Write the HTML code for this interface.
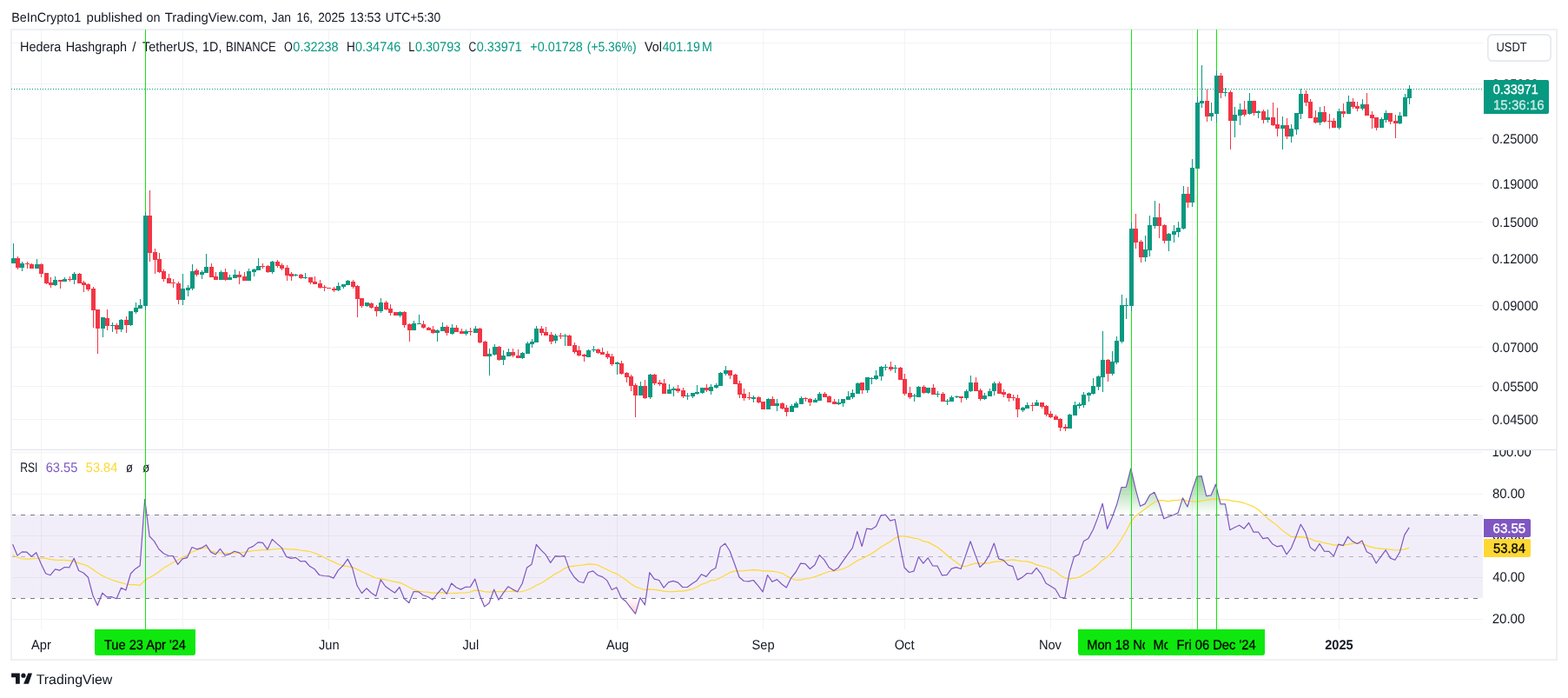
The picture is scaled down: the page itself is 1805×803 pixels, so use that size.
<!DOCTYPE html>
<html lang="en"><head><meta charset="utf-8"><title>HBARUSDT chart</title>
<style>html,body{margin:0;padding:0;background:#fff}body{width:1805px;height:803px;overflow:hidden;font-family:"Liberation Sans", Arial, sans-serif}svg{display:block}text{font-family:"Liberation Sans", Arial, sans-serif;font-size:15.5px;text-rendering:geometricPrecision;fill:#131722}</style>
</head><body>
<svg width="1805" height="803" viewBox="0 0 1805 803">
<rect width="1805" height="803" fill="#fff"/>
<g shape-rendering="crispEdges">
<rect x="13" y="34" width="1779" height="725" fill="none" stroke="#eef0f4" stroke-width="2"/>
<rect x="14" y="49" width="1693" height="1" fill="#f2f3f4"/>
<rect x="14" y="96" width="1693" height="1" fill="#f2f3f4"/>
<rect x="14" y="159" width="1693" height="1" fill="#f2f3f4"/>
<rect x="14" y="211" width="1693" height="1" fill="#f2f3f4"/>
<rect x="14" y="255" width="1693" height="1" fill="#f2f3f4"/>
<rect x="14" y="297" width="1693" height="1" fill="#f2f3f4"/>
<rect x="14" y="351" width="1693" height="1" fill="#f2f3f4"/>
<rect x="14" y="399" width="1693" height="1" fill="#f2f3f4"/>
<rect x="14" y="444" width="1693" height="1" fill="#f2f3f4"/>
<rect x="14" y="482" width="1693" height="1" fill="#f2f3f4"/>
<rect x="14" y="520" width="1693" height="1" fill="#f2f3f4"/>
<rect x="14" y="568" width="1693" height="1" fill="#f2f3f4"/>
<rect x="14" y="616" width="1693" height="1" fill="#f2f3f4"/>
<rect x="14" y="664" width="1693" height="1" fill="#f2f3f4"/>
<rect x="14" y="712" width="1693" height="1" fill="#f2f3f4"/>
<rect x="47" y="35" width="1" height="689" fill="#f2f3f4"/>
<rect x="210" y="35" width="1" height="689" fill="#f2f3f4"/>
<rect x="378" y="35" width="1" height="689" fill="#f2f3f4"/>
<rect x="541" y="35" width="1" height="689" fill="#f2f3f4"/>
<rect x="710" y="35" width="1" height="689" fill="#f2f3f4"/>
<rect x="878" y="35" width="1" height="689" fill="#f2f3f4"/>
<rect x="1041" y="35" width="1" height="689" fill="#f2f3f4"/>
<rect x="1209" y="35" width="1" height="689" fill="#f2f3f4"/>
<rect x="1372" y="35" width="1" height="689" fill="#f2f3f4"/>
<rect x="1541" y="35" width="1" height="689" fill="#f2f3f4"/>
<rect x="14" y="517" width="1778" height="1" fill="#e0e3eb"/>
<rect x="14" y="592" width="1693" height="96" fill="#7e57c2" fill-opacity="0.1"/>
</g>
<g fill="none" stroke-width="1" shape-rendering="crispEdges">
<path d="M14 592.5H1707M14 688.5H1707" stroke="#787b86" stroke-dasharray="5 6" stroke-dashoffset="1"/>
<path d="M14 640.5H1707" stroke="#787b86" stroke-opacity="0.5" stroke-dasharray="5 6" stroke-dashoffset="1"/>
</g>
<text x="22.97" y="58.8" textLength="47.44" lengthAdjust="spacingAndGlyphs">Hedera</text>
<text x="75.68" y="58.8" textLength="70.43" lengthAdjust="spacingAndGlyphs">Hashgraph</text>
<text x="152.30" y="58.8" textLength="4.31" lengthAdjust="spacingAndGlyphs">/</text>
<text x="163.98" y="58.8" textLength="64.00" lengthAdjust="spacingAndGlyphs">TetherUS,</text>
<text x="233.11" y="58.8" textLength="22.26" lengthAdjust="spacingAndGlyphs">1D,</text>
<text x="259.99" y="58.8" textLength="57.66" lengthAdjust="spacingAndGlyphs">BINANCE</text>
<text x="326.91" y="58.8" textLength="9.84" lengthAdjust="spacingAndGlyphs">O</text>
<text x="337.35" y="58.8" style="fill:#089981;" textLength="52.24" lengthAdjust="spacingAndGlyphs">0.32238</text>
<text x="398.94" y="58.8" textLength="9.76" lengthAdjust="spacingAndGlyphs">H</text>
<text x="408.95" y="58.8" style="fill:#089981;" textLength="52.44" lengthAdjust="spacingAndGlyphs">0.34746</text>
<text x="470.20" y="58.8" textLength="7.12" lengthAdjust="spacingAndGlyphs">L</text>
<text x="477.95" y="58.8" style="fill:#089981;" textLength="52.34" lengthAdjust="spacingAndGlyphs">0.30793</text>
<text x="539.54" y="58.8" textLength="8.68" lengthAdjust="spacingAndGlyphs">C</text>
<text x="548.65" y="58.8" style="fill:#089981;" textLength="52.14" lengthAdjust="spacingAndGlyphs">0.33971</text>
<text x="610.32" y="58.8" style="fill:#089981;" textLength="60.56" lengthAdjust="spacingAndGlyphs">+0.01728</text>
<text x="675.75" y="58.8" style="fill:#089981;" textLength="56.77" lengthAdjust="spacingAndGlyphs">(+5.36%)</text>
<text x="742.10" y="58.8" textLength="19.84" lengthAdjust="spacingAndGlyphs">Vol</text>
<text x="762.38" y="58.8" style="fill:#089981;" textLength="43.60" lengthAdjust="spacingAndGlyphs">401.19</text>
<text x="808.09" y="58.8" style="fill:#089981;" textLength="11.87" lengthAdjust="spacingAndGlyphs">M</text>
<text x="23.15" y="542.7" textLength="20.36" lengthAdjust="spacingAndGlyphs">RSI</text>
<text x="52.71" y="542.7" style="fill:#7e57c2;" textLength="36.68" lengthAdjust="spacingAndGlyphs">63.55</text>
<text x="98.84" y="542.7" style="fill:#fdd835;" textLength="36.52" lengthAdjust="spacingAndGlyphs">53.84</text>
<text x="145.00" y="542.7" textLength="7.92" lengthAdjust="spacingAndGlyphs">ø</text>
<text x="164.20" y="542.7" textLength="7.82" lengthAdjust="spacingAndGlyphs">ø</text>
<g shape-rendering="crispEdges" fill="#0ee80e">
<rect x="167" y="34" width="1" height="484"/>
<rect x="1302" y="34" width="1" height="484"/>
<rect x="1378" y="34" width="1" height="484"/>
<rect x="1400" y="34" width="1" height="484"/>
</g>
<path d="M13 102.5H1707" stroke="#089981" stroke-width="1" stroke-dasharray="1 2" shape-rendering="crispEdges" fill="none"/>
<g shape-rendering="crispEdges">
<path fill="#089981" d="M15 280h1v23h-1zM13 297h5v6h-5z"/>
<path fill="#f23645" d="M20 295h1v15h-1zM18 297h5v11h-5z"/>
<path fill="#089981" d="M25 301h1v11h-1zM23 303h5v5h-5z"/>
<path fill="#f23645" d="M31 301h1v8h-1zM29 303h5v1h-5z"/>
<path fill="#f23645" d="M36 303h1v6h-1zM34 304h5v5h-5z"/>
<path fill="#089981" d="M42 298h1v11h-1zM40 304h5v5h-5z"/>
<path fill="#f23645" d="M47 303h1v16h-1zM45 304h5v11h-5z"/>
<path fill="#f23645" d="M53 314h1v13h-1zM51 314h5v12h-5z"/>
<path fill="#f23645" d="M58 319h1v12h-1zM56 325h5v3h-5z"/>
<path fill="#089981" d="M63 318h1v11h-1zM61 322h5v6h-5z"/>
<path fill="#f23645" d="M69 322h1v10h-1zM67 322h5v2h-5z"/>
<path fill="#089981" d="M74 319h1v5h-1zM72 321h5v3h-5z"/>
<path fill="#f23645" d="M80 318h1v6h-1zM78 321h5v1h-5z"/>
<path fill="#089981" d="M85 313h1v14h-1zM83 315h5v7h-5z"/>
<path fill="#f23645" d="M91 314h1v12h-1zM89 315h5v11h-5z"/>
<path fill="#f23645" d="M96 323h1v13h-1zM94 325h5v3h-5z"/>
<path fill="#f23645" d="M101 326h1v9h-1zM99 327h5v6h-5z"/>
<path fill="#f23645" d="M107 330h1v47h-1zM105 332h5v25h-5z"/>
<path fill="#f23645" d="M112 356h1v51h-1zM110 356h5v22h-5z"/>
<path fill="#089981" d="M118 365h1v23h-1zM116 365h5v13h-5z"/>
<path fill="#f23645" d="M123 356h1v24h-1zM121 366h5v9h-5z"/>
<path fill="#089981" d="M129 371h1v11h-1zM127 374h5v1h-5z"/>
<path fill="#f23645" d="M134 372h1v12h-1zM132 374h5v5h-5z"/>
<path fill="#089981" d="M139 367h1v15h-1zM137 368h5v11h-5z"/>
<path fill="#f23645" d="M145 364h1v19h-1zM143 368h5v6h-5z"/>
<path fill="#089981" d="M150 358h1v17h-1zM148 358h5v16h-5z"/>
<path fill="#089981" d="M156 348h1v13h-1zM154 354h5v5h-5z"/>
<path fill="#089981" d="M161 344h1v11h-1zM159 351h5v4h-5z"/>
<path fill="#089981" d="M167 244h1v113h-1zM165 248h5v104h-5z"/>
<path fill="#f23645" d="M172 219h1v82h-1zM170 248h5v43h-5z"/>
<path fill="#f23645" d="M178 286h1v29h-1zM176 290h5v9h-5z"/>
<path fill="#f23645" d="M183 291h1v23h-1zM181 298h5v15h-5z"/>
<path fill="#f23645" d="M188 310h1v14h-1zM186 312h5v9h-5z"/>
<path fill="#f23645" d="M194 315h1v11h-1zM192 320h5v6h-5z"/>
<path fill="#f23645" d="M199 321h1v10h-1zM197 325h5v1h-5z"/>
<path fill="#f23645" d="M205 324h1v26h-1zM203 326h5v19h-5z"/>
<path fill="#089981" d="M210 315h1v36h-1zM208 332h5v13h-5z"/>
<path fill="#089981" d="M216 328h1v13h-1zM214 331h5v3h-5z"/>
<path fill="#089981" d="M221 304h1v30h-1zM219 312h5v20h-5z"/>
<path fill="#f23645" d="M226 309h1v9h-1zM224 311h5v5h-5z"/>
<path fill="#089981" d="M232 311h1v10h-1zM230 313h5v3h-5z"/>
<path fill="#089981" d="M237 292h1v22h-1zM235 307h5v7h-5z"/>
<path fill="#f23645" d="M243 303h1v16h-1zM241 307h5v12h-5z"/>
<path fill="#f23645" d="M248 313h1v9h-1zM246 318h5v4h-5z"/>
<path fill="#089981" d="M254 311h1v11h-1zM252 313h5v9h-5z"/>
<path fill="#f23645" d="M259 309h1v14h-1zM257 313h5v9h-5z"/>
<path fill="#089981" d="M264 316h1v6h-1zM262 319h5v3h-5z"/>
<path fill="#089981" d="M270 310h1v10h-1zM268 316h5v4h-5z"/>
<path fill="#f23645" d="M275 312h1v15h-1zM273 316h5v3h-5z"/>
<path fill="#f23645" d="M281 313h1v10h-1zM279 318h5v5h-5z"/>
<path fill="#089981" d="M286 309h1v14h-1zM284 312h5v11h-5z"/>
<path fill="#089981" d="M292 309h1v9h-1zM290 310h5v3h-5z"/>
<path fill="#089981" d="M297 297h1v14h-1zM295 306h5v5h-5z"/>
<path fill="#f23645" d="M302 303h1v6h-1zM300 306h5v1h-5z"/>
<path fill="#f23645" d="M308 305h1v9h-1zM306 306h5v7h-5z"/>
<path fill="#089981" d="M313 300h1v15h-1zM311 301h5v12h-5z"/>
<path fill="#f23645" d="M319 299h1v9h-1zM317 301h5v5h-5z"/>
<path fill="#f23645" d="M324 303h1v8h-1zM322 305h5v4h-5z"/>
<path fill="#f23645" d="M330 305h1v18h-1zM328 308h5v9h-5z"/>
<path fill="#f23645" d="M335 313h1v10h-1zM333 315h5v3h-5z"/>
<path fill="#089981" d="M340 315h1v3h-1zM338 316h5v1h-5z"/>
<path fill="#f23645" d="M346 315h1v6h-1zM344 316h5v4h-5z"/>
<path fill="#089981" d="M351 314h1v7h-1zM349 319h5v1h-5z"/>
<path fill="#f23645" d="M357 319h1v8h-1zM355 319h5v6h-5z"/>
<path fill="#f23645" d="M362 318h1v9h-1zM360 324h5v3h-5z"/>
<path fill="#f23645" d="M368 322h1v10h-1zM366 326h5v5h-5z"/>
<path fill="#f23645" d="M373 328h1v7h-1zM371 330h5v1h-5z"/>
<path fill="#f23645" d="M378 331h1v1h-1zM376 331h5v1h-5z"/>
<path fill="#f23645" d="M384 330h1v6h-1zM382 332h5v2h-5z"/>
<path fill="#089981" d="M389 325h1v10h-1zM387 329h5v5h-5z"/>
<path fill="#089981" d="M395 327h1v5h-1zM393 327h5v3h-5z"/>
<path fill="#089981" d="M400 322h1v6h-1zM398 323h5v5h-5z"/>
<path fill="#f23645" d="M406 322h1v10h-1zM404 324h5v6h-5z"/>
<path fill="#f23645" d="M411 328h1v37h-1zM409 329h5v15h-5z"/>
<path fill="#f23645" d="M416 343h1v11h-1zM414 343h5v9h-5z"/>
<path fill="#089981" d="M422 348h1v5h-1zM420 348h5v4h-5z"/>
<path fill="#f23645" d="M427 348h1v7h-1zM425 349h5v5h-5z"/>
<path fill="#f23645" d="M433 351h1v13h-1zM431 353h5v5h-5z"/>
<path fill="#089981" d="M438 343h1v17h-1zM436 348h5v10h-5z"/>
<path fill="#f23645" d="M444 346h1v11h-1zM442 348h5v8h-5z"/>
<path fill="#f23645" d="M449 350h1v13h-1zM447 355h5v5h-5z"/>
<path fill="#f23645" d="M455 359h1v4h-1zM453 359h5v4h-5z"/>
<path fill="#089981" d="M460 358h1v7h-1zM458 359h5v4h-5z"/>
<path fill="#f23645" d="M465 358h1v19h-1zM463 359h5v15h-5z"/>
<path fill="#f23645" d="M471 372h1v21h-1zM469 373h5v7h-5z"/>
<path fill="#089981" d="M476 369h1v11h-1zM474 372h5v8h-5z"/>
<path fill="#089981" d="M482 362h1v11h-1zM480 372h5v1h-5z"/>
<path fill="#f23645" d="M487 369h1v9h-1zM485 373h5v4h-5z"/>
<path fill="#f23645" d="M493 376h1v4h-1zM491 377h5v3h-5z"/>
<path fill="#f23645" d="M498 375h1v9h-1zM496 379h5v4h-5z"/>
<path fill="#089981" d="M503 379h1v14h-1zM501 380h5v3h-5z"/>
<path fill="#089981" d="M509 371h1v10h-1zM507 376h5v5h-5z"/>
<path fill="#f23645" d="M514 374h1v12h-1zM512 376h5v7h-5z"/>
<path fill="#089981" d="M520 373h1v12h-1zM518 377h5v7h-5z"/>
<path fill="#f23645" d="M525 374h1v8h-1zM523 377h5v5h-5z"/>
<path fill="#f23645" d="M531 378h1v6h-1zM529 381h5v3h-5z"/>
<path fill="#089981" d="M536 379h1v7h-1zM534 381h5v3h-5z"/>
<path fill="#f23645" d="M541 377h1v9h-1zM539 381h5v1h-5z"/>
<path fill="#089981" d="M547 375h1v8h-1zM545 378h5v5h-5z"/>
<path fill="#f23645" d="M552 377h1v18h-1zM550 378h5v16h-5z"/>
<path fill="#f23645" d="M558 392h1v18h-1zM556 393h5v17h-5z"/>
<path fill="#089981" d="M563 401h1v31h-1zM561 407h5v3h-5z"/>
<path fill="#089981" d="M569 396h1v13h-1zM567 399h5v9h-5z"/>
<path fill="#f23645" d="M574 398h1v17h-1zM572 399h5v15h-5z"/>
<path fill="#089981" d="M579 403h1v17h-1zM577 409h5v5h-5z"/>
<path fill="#089981" d="M585 401h1v9h-1zM583 405h5v5h-5z"/>
<path fill="#f23645" d="M590 401h1v10h-1zM588 405h5v4h-5z"/>
<path fill="#f23645" d="M596 402h1v10h-1zM594 409h5v3h-5z"/>
<path fill="#089981" d="M601 405h1v8h-1zM599 406h5v6h-5z"/>
<path fill="#089981" d="M607 393h1v14h-1zM605 395h5v12h-5z"/>
<path fill="#089981" d="M612 390h1v10h-1zM610 393h5v3h-5z"/>
<path fill="#089981" d="M617 375h1v19h-1zM615 378h5v16h-5z"/>
<path fill="#f23645" d="M623 375h1v11h-1zM621 378h5v5h-5z"/>
<path fill="#f23645" d="M628 376h1v10h-1zM626 382h5v4h-5z"/>
<path fill="#f23645" d="M634 382h1v14h-1zM632 385h5v8h-5z"/>
<path fill="#089981" d="M639 384h1v11h-1zM637 386h5v6h-5z"/>
<path fill="#f23645" d="M645 383h1v7h-1zM643 386h5v1h-5z"/>
<path fill="#089981" d="M650 384h1v14h-1zM648 386h5v1h-5z"/>
<path fill="#f23645" d="M655 385h1v13h-1zM653 386h5v12h-5z"/>
<path fill="#f23645" d="M661 394h1v13h-1zM659 397h5v8h-5z"/>
<path fill="#f23645" d="M666 398h1v12h-1zM664 403h5v6h-5z"/>
<path fill="#f23645" d="M672 407h1v9h-1zM670 408h5v2h-5z"/>
<path fill="#089981" d="M677 402h1v9h-1zM675 403h5v8h-5z"/>
<path fill="#089981" d="M683 398h1v7h-1zM681 402h5v1h-5z"/>
<path fill="#f23645" d="M688 401h1v6h-1zM686 402h5v4h-5z"/>
<path fill="#f23645" d="M693 400h1v8h-1zM691 405h5v3h-5z"/>
<path fill="#f23645" d="M699 404h1v9h-1zM697 407h5v4h-5z"/>
<path fill="#f23645" d="M704 407h1v14h-1zM702 410h5v9h-5z"/>
<path fill="#089981" d="M710 416h1v15h-1zM708 417h5v2h-5z"/>
<path fill="#f23645" d="M715 415h1v16h-1zM713 418h5v12h-5z"/>
<path fill="#f23645" d="M721 428h1v12h-1zM719 429h5v5h-5z"/>
<path fill="#f23645" d="M726 431h1v19h-1zM724 433h5v11h-5z"/>
<path fill="#f23645" d="M731 441h1v39h-1zM729 443h5v12h-5z"/>
<path fill="#089981" d="M737 439h1v16h-1zM735 444h5v11h-5z"/>
<path fill="#f23645" d="M742 437h1v22h-1zM740 444h5v14h-5z"/>
<path fill="#089981" d="M748 430h1v29h-1zM746 431h5v26h-5z"/>
<path fill="#f23645" d="M753 430h1v13h-1zM751 431h5v10h-5z"/>
<path fill="#f23645" d="M759 437h1v7h-1zM757 440h5v2h-5z"/>
<path fill="#f23645" d="M764 436h1v17h-1zM762 441h5v12h-5z"/>
<path fill="#089981" d="M770 442h1v11h-1zM768 448h5v5h-5z"/>
<path fill="#089981" d="M775 445h1v11h-1zM773 447h5v2h-5z"/>
<path fill="#f23645" d="M780 443h1v9h-1zM778 447h5v3h-5z"/>
<path fill="#f23645" d="M786 446h1v12h-1zM784 449h5v7h-5z"/>
<path fill="#089981" d="M791 452h1v8h-1zM789 455h5v1h-5z"/>
<path fill="#089981" d="M797 452h1v6h-1zM795 452h5v4h-5z"/>
<path fill="#089981" d="M802 443h1v11h-1zM800 451h5v2h-5z"/>
<path fill="#089981" d="M808 446h1v7h-1zM806 446h5v6h-5z"/>
<path fill="#f23645" d="M813 442h1v9h-1zM811 446h5v3h-5z"/>
<path fill="#089981" d="M818 442h1v12h-1zM816 445h5v5h-5z"/>
<path fill="#089981" d="M824 441h1v6h-1zM822 443h5v3h-5z"/>
<path fill="#089981" d="M829 428h1v16h-1zM827 429h5v15h-5z"/>
<path fill="#089981" d="M835 421h1v11h-1zM833 426h5v4h-5z"/>
<path fill="#f23645" d="M840 426h1v10h-1zM838 426h5v6h-5z"/>
<path fill="#f23645" d="M846 430h1v12h-1zM844 431h5v11h-5z"/>
<path fill="#f23645" d="M851 438h1v20h-1zM849 441h5v13h-5z"/>
<path fill="#f23645" d="M856 447h1v14h-1zM854 453h5v5h-5z"/>
<path fill="#f23645" d="M862 451h1v9h-1zM860 457h5v1h-5z"/>
<path fill="#089981" d="M867 455h1v8h-1zM865 457h5v2h-5z"/>
<path fill="#f23645" d="M873 456h1v8h-1zM871 457h5v6h-5z"/>
<path fill="#f23645" d="M878 462h1v9h-1zM876 462h5v9h-5z"/>
<path fill="#089981" d="M884 458h1v13h-1zM882 459h5v12h-5z"/>
<path fill="#f23645" d="M889 456h1v11h-1zM887 459h5v8h-5z"/>
<path fill="#089981" d="M894 459h1v14h-1zM892 464h5v3h-5z"/>
<path fill="#f23645" d="M900 463h1v8h-1zM898 464h5v6h-5z"/>
<path fill="#f23645" d="M905 466h1v13h-1zM903 469h5v5h-5z"/>
<path fill="#089981" d="M911 465h1v9h-1zM909 467h5v7h-5z"/>
<path fill="#089981" d="M916 462h1v7h-1zM914 464h5v5h-5z"/>
<path fill="#089981" d="M922 456h1v9h-1zM920 458h5v7h-5z"/>
<path fill="#f23645" d="M927 457h1v5h-1zM925 458h5v1h-5z"/>
<path fill="#f23645" d="M932 458h1v9h-1zM930 459h5v4h-5z"/>
<path fill="#089981" d="M938 458h1v5h-1zM936 460h5v3h-5z"/>
<path fill="#089981" d="M943 451h1v10h-1zM941 453h5v8h-5z"/>
<path fill="#f23645" d="M949 451h1v6h-1zM947 453h5v4h-5z"/>
<path fill="#f23645" d="M954 455h1v8h-1zM952 456h5v7h-5z"/>
<path fill="#f23645" d="M960 459h1v6h-1zM958 462h5v3h-5z"/>
<path fill="#089981" d="M965 459h1v7h-1zM963 463h5v2h-5z"/>
<path fill="#089981" d="M970 459h1v9h-1zM968 459h5v5h-5z"/>
<path fill="#089981" d="M976 450h1v10h-1zM974 456h5v4h-5z"/>
<path fill="#089981" d="M981 448h1v11h-1zM979 452h5v5h-5z"/>
<path fill="#089981" d="M987 440h1v13h-1zM985 441h5v12h-5z"/>
<path fill="#f23645" d="M992 440h1v13h-1zM990 440h5v9h-5z"/>
<path fill="#089981" d="M998 434h1v18h-1zM996 434h5v15h-5z"/>
<path fill="#089981" d="M1003 434h1v8h-1zM1001 435h5v1h-5z"/>
<path fill="#089981" d="M1008 426h1v11h-1zM1006 432h5v4h-5z"/>
<path fill="#089981" d="M1014 421h1v17h-1zM1012 422h5v11h-5z"/>
<path fill="#089981" d="M1019 419h1v7h-1zM1017 422h5v1h-5z"/>
<path fill="#f23645" d="M1025 416h1v11h-1zM1023 422h5v3h-5z"/>
<path fill="#089981" d="M1030 420h1v9h-1zM1028 423h5v1h-5z"/>
<path fill="#f23645" d="M1036 422h1v15h-1zM1034 423h5v14h-5z"/>
<path fill="#f23645" d="M1041 430h1v25h-1zM1039 436h5v17h-5z"/>
<path fill="#f23645" d="M1047 445h1v14h-1zM1045 452h5v5h-5z"/>
<path fill="#089981" d="M1052 453h1v9h-1zM1050 455h5v1h-5z"/>
<path fill="#089981" d="M1057 444h1v13h-1zM1055 445h5v12h-5z"/>
<path fill="#f23645" d="M1063 443h1v10h-1zM1061 445h5v7h-5z"/>
<path fill="#089981" d="M1068 446h1v7h-1zM1066 446h5v6h-5z"/>
<path fill="#f23645" d="M1074 442h1v12h-1zM1072 446h5v8h-5z"/>
<path fill="#089981" d="M1079 450h1v7h-1zM1077 453h5v1h-5z"/>
<path fill="#f23645" d="M1085 451h1v11h-1zM1083 453h5v9h-5z"/>
<path fill="#089981" d="M1090 459h1v7h-1zM1088 461h5v1h-5z"/>
<path fill="#089981" d="M1095 455h1v7h-1zM1093 457h5v5h-5z"/>
<path fill="#089981" d="M1101 455h1v3h-1zM1099 456h5v1h-5z"/>
<path fill="#f23645" d="M1106 456h1v7h-1zM1104 456h5v2h-5z"/>
<path fill="#089981" d="M1112 448h1v12h-1zM1110 450h5v8h-5z"/>
<path fill="#089981" d="M1117 432h1v19h-1zM1115 440h5v10h-5z"/>
<path fill="#f23645" d="M1123 434h1v16h-1zM1121 440h5v10h-5z"/>
<path fill="#f23645" d="M1128 447h1v14h-1zM1126 449h5v10h-5z"/>
<path fill="#089981" d="M1133 452h1v8h-1zM1131 455h5v4h-5z"/>
<path fill="#089981" d="M1139 447h1v9h-1zM1137 450h5v6h-5z"/>
<path fill="#089981" d="M1144 439h1v16h-1zM1142 441h5v9h-5z"/>
<path fill="#f23645" d="M1150 439h1v14h-1zM1148 441h5v12h-5z"/>
<path fill="#f23645" d="M1155 448h1v9h-1zM1153 451h5v3h-5z"/>
<path fill="#f23645" d="M1161 452h1v10h-1zM1159 453h5v5h-5z"/>
<path fill="#f23645" d="M1166 454h1v7h-1zM1164 457h5v1h-5z"/>
<path fill="#f23645" d="M1171 454h1v26h-1zM1169 458h5v13h-5z"/>
<path fill="#089981" d="M1177 468h1v6h-1zM1175 469h5v3h-5z"/>
<path fill="#089981" d="M1182 463h1v7h-1zM1180 466h5v4h-5z"/>
<path fill="#f23645" d="M1188 463h1v10h-1zM1186 466h5v1h-5z"/>
<path fill="#089981" d="M1193 460h1v7h-1zM1191 463h5v4h-5z"/>
<path fill="#f23645" d="M1199 463h1v7h-1zM1197 463h5v5h-5z"/>
<path fill="#f23645" d="M1204 466h1v13h-1zM1202 467h5v10h-5z"/>
<path fill="#f23645" d="M1209 473h1v8h-1zM1207 476h5v4h-5z"/>
<path fill="#f23645" d="M1215 477h1v6h-1zM1213 479h5v4h-5z"/>
<path fill="#f23645" d="M1220 481h1v15h-1zM1218 482h5v10h-5z"/>
<path fill="#f23645" d="M1226 488h1v8h-1zM1224 491h5v2h-5z"/>
<path fill="#089981" d="M1231 476h1v17h-1zM1229 477h5v16h-5z"/>
<path fill="#089981" d="M1237 462h1v16h-1zM1235 466h5v12h-5z"/>
<path fill="#089981" d="M1242 463h1v7h-1zM1240 465h5v2h-5z"/>
<path fill="#089981" d="M1247 451h1v18h-1zM1245 454h5v12h-5z"/>
<path fill="#089981" d="M1253 451h1v11h-1zM1251 452h5v3h-5z"/>
<path fill="#089981" d="M1258 435h1v19h-1zM1256 444h5v9h-5z"/>
<path fill="#089981" d="M1264 432h1v17h-1zM1262 433h5v12h-5z"/>
<path fill="#089981" d="M1269 381h1v70h-1zM1267 414h5v20h-5z"/>
<path fill="#f23645" d="M1275 413h1v26h-1zM1273 414h5v16h-5z"/>
<path fill="#089981" d="M1280 404h1v28h-1zM1278 416h5v14h-5z"/>
<path fill="#089981" d="M1285 387h1v32h-1zM1283 392h5v25h-5z"/>
<path fill="#089981" d="M1291 339h1v56h-1zM1289 351h5v42h-5z"/>
<path fill="#089981" d="M1296 343h1v24h-1zM1294 351h5v1h-5z"/>
<path fill="#089981" d="M1302 256h1v102h-1zM1300 263h5v89h-5z"/>
<path fill="#f23645" d="M1307 246h1v40h-1zM1305 263h5v16h-5z"/>
<path fill="#f23645" d="M1313 276h1v26h-1zM1311 278h5v18h-5z"/>
<path fill="#089981" d="M1318 271h1v30h-1zM1316 287h5v9h-5z"/>
<path fill="#089981" d="M1323 248h1v47h-1zM1321 259h5v29h-5z"/>
<path fill="#089981" d="M1329 231h1v32h-1zM1327 250h5v10h-5z"/>
<path fill="#f23645" d="M1334 234h1v40h-1zM1332 250h5v10h-5z"/>
<path fill="#f23645" d="M1340 258h1v22h-1zM1338 259h5v18h-5z"/>
<path fill="#089981" d="M1345 268h1v21h-1zM1343 269h5v8h-5z"/>
<path fill="#089981" d="M1351 259h1v20h-1zM1349 266h5v4h-5z"/>
<path fill="#089981" d="M1356 255h1v18h-1zM1354 262h5v5h-5z"/>
<path fill="#089981" d="M1362 214h1v50h-1zM1360 223h5v40h-5z"/>
<path fill="#f23645" d="M1367 215h1v24h-1zM1365 223h5v10h-5z"/>
<path fill="#089981" d="M1372 183h1v55h-1zM1370 193h5v40h-5z"/>
<path fill="#089981" d="M1378 111h1v83h-1zM1376 118h5v76h-5z"/>
<path fill="#089981" d="M1383 75h1v49h-1zM1381 116h5v3h-5z"/>
<path fill="#f23645" d="M1389 103h1v37h-1zM1387 116h5v18h-5z"/>
<path fill="#089981" d="M1394 118h1v21h-1zM1392 130h5v4h-5z"/>
<path fill="#089981" d="M1400 81h1v60h-1zM1398 87h5v44h-5z"/>
<path fill="#f23645" d="M1405 84h1v29h-1zM1403 87h5v20h-5z"/>
<path fill="#089981" d="M1410 101h1v10h-1zM1408 106h5v1h-5z"/>
<path fill="#f23645" d="M1416 104h1v68h-1zM1414 106h5v33h-5z"/>
<path fill="#089981" d="M1421 123h1v35h-1zM1419 132h5v7h-5z"/>
<path fill="#089981" d="M1427 119h1v25h-1zM1425 126h5v7h-5z"/>
<path fill="#f23645" d="M1432 116h1v18h-1zM1430 126h5v6h-5z"/>
<path fill="#089981" d="M1438 107h1v25h-1zM1436 116h5v15h-5z"/>
<path fill="#f23645" d="M1443 116h1v17h-1zM1441 116h5v14h-5z"/>
<path fill="#089981" d="M1448 127h1v9h-1zM1446 128h5v2h-5z"/>
<path fill="#f23645" d="M1454 126h1v16h-1zM1452 128h5v10h-5z"/>
<path fill="#089981" d="M1459 126h1v15h-1zM1457 135h5v3h-5z"/>
<path fill="#f23645" d="M1465 118h1v27h-1zM1463 135h5v9h-5z"/>
<path fill="#f23645" d="M1470 124h1v33h-1zM1468 143h5v5h-5z"/>
<path fill="#089981" d="M1476 134h1v38h-1zM1474 144h5v4h-5z"/>
<path fill="#f23645" d="M1481 136h1v24h-1zM1479 144h5v13h-5z"/>
<path fill="#089981" d="M1486 143h1v21h-1zM1484 148h5v9h-5z"/>
<path fill="#089981" d="M1492 130h1v25h-1zM1490 130h5v19h-5z"/>
<path fill="#089981" d="M1497 102h1v35h-1zM1495 108h5v23h-5z"/>
<path fill="#f23645" d="M1503 104h1v18h-1zM1501 108h5v10h-5z"/>
<path fill="#f23645" d="M1508 114h1v22h-1zM1506 117h5v19h-5z"/>
<path fill="#f23645" d="M1514 127h1v15h-1zM1512 135h5v6h-5z"/>
<path fill="#089981" d="M1519 123h1v21h-1zM1517 129h5v12h-5z"/>
<path fill="#f23645" d="M1524 122h1v19h-1zM1522 129h5v11h-5z"/>
<path fill="#f23645" d="M1530 131h1v17h-1zM1528 139h5v1h-5z"/>
<path fill="#f23645" d="M1535 136h1v11h-1zM1533 139h5v8h-5z"/>
<path fill="#089981" d="M1541 125h1v24h-1zM1539 128h5v19h-5z"/>
<path fill="#f23645" d="M1546 119h1v16h-1zM1544 128h5v3h-5z"/>
<path fill="#089981" d="M1552 110h1v21h-1zM1550 117h5v14h-5z"/>
<path fill="#f23645" d="M1557 113h1v12h-1zM1555 117h5v6h-5z"/>
<path fill="#f23645" d="M1562 117h1v11h-1zM1560 122h5v3h-5z"/>
<path fill="#089981" d="M1568 114h1v13h-1zM1566 120h5v5h-5z"/>
<path fill="#f23645" d="M1573 107h1v26h-1zM1571 120h5v13h-5z"/>
<path fill="#f23645" d="M1579 128h1v20h-1zM1577 132h5v4h-5z"/>
<path fill="#f23645" d="M1584 135h1v15h-1zM1582 135h5v12h-5z"/>
<path fill="#089981" d="M1590 135h1v12h-1zM1588 137h5v10h-5z"/>
<path fill="#089981" d="M1595 127h1v14h-1zM1593 130h5v8h-5z"/>
<path fill="#f23645" d="M1600 130h1v13h-1zM1598 130h5v10h-5z"/>
<path fill="#f23645" d="M1606 132h1v27h-1zM1604 139h5v3h-5z"/>
<path fill="#089981" d="M1611 129h1v14h-1zM1609 133h5v9h-5z"/>
<path fill="#089981" d="M1617 108h1v26h-1zM1615 112h5v22h-5z"/>
<path fill="#089981" d="M1622 98h1v22h-1zM1620 102h5v11h-5z"/>
</g>
<defs><linearGradient id="ob" x1="0" y1="520" x2="0" y2="592" gradientUnits="userSpaceOnUse"><stop offset="0" stop-color="#4caf50" stop-opacity="1"/><stop offset="1" stop-color="#4caf50" stop-opacity="0"/></linearGradient>
<linearGradient id="os" x1="0" y1="688" x2="0" y2="760" gradientUnits="userSpaceOnUse"><stop offset="0" stop-color="#f23645" stop-opacity="0"/><stop offset="1" stop-color="#f23645" stop-opacity="1"/></linearGradient>
<clipPath id="cob"><rect x="14" y="519" width="1693" height="73"/></clipPath><clipPath id="cos"><rect x="14" y="689" width="1693" height="35"/></clipPath></defs>
<polygon clip-path="url(#cob)" fill="url(#ob)" points="14.6,592 14.6,626.2 20.0,639.1 25.4,634.9 30.9,635.2 36.3,640.2 41.7,635.7 47.2,648.6 52.6,659.8 58.0,661.7 63.5,654.8 68.9,656.1 74.3,652.5 79.8,652.8 85.2,642.2 90.6,656.5 96.0,659.0 101.5,664.3 106.9,685.0 112.3,696.5 117.8,682.2 123.2,686.9 128.6,686.7 134.1,688.7 139.5,676.2 144.9,679.0 150.4,660.0 155.8,654.4 161.2,650.7 166.7,574.4 172.1,617.0 177.5,622.6 182.9,631.8 188.4,636.7 193.8,639.3 199.2,639.6 204.7,649.4 210.1,642.9 215.5,641.6 221.0,629.5 226.4,631.8 231.8,630.4 237.3,626.9 242.7,635.1 248.1,637.8 253.5,631.5 259.0,638.9 264.4,637.4 269.8,634.2 275.3,635.9 280.7,640.4 286.1,630.7 291.6,628.4 297.0,623.9 302.4,624.4 307.9,632.1 313.3,620.4 318.7,625.4 324.2,630.1 329.6,640.4 335.0,642.4 340.4,641.4 345.9,645.8 351.3,645.5 356.7,651.6 362.2,654.8 367.6,661.5 373.0,662.5 378.5,662.8 383.9,665.1 389.3,656.1 394.8,650.8 400.2,643.1 405.6,653.4 411.1,673.8 416.5,682.5 421.9,676.8 427.3,682.0 432.8,685.7 438.2,666.8 443.6,674.5 449.1,678.6 454.5,682.0 459.9,675.5 465.4,688.9 470.8,693.5 476.2,680.5 481.7,680.8 487.1,684.7 492.5,686.5 498.0,690.0 503.4,683.0 508.8,676.8 514.2,683.2 519.7,671.0 525.1,675.8 530.5,678.1 536.0,675.3 541.4,675.1 546.8,666.1 552.3,684.7 557.7,697.9 563.1,693.7 568.6,678.1 574.0,690.2 579.4,682.2 584.9,674.8 590.3,678.1 595.7,680.8 601.1,671.5 606.6,652.9 612.0,649.2 617.4,626.5 622.9,632.8 628.3,638.2 633.7,647.4 639.2,639.6 644.6,640.2 650.0,639.6 655.5,655.4 660.9,663.8 666.3,669.0 671.8,670.5 677.2,658.5 682.6,656.9 688.0,661.7 693.5,663.6 698.9,667.9 704.3,678.5 709.8,675.8 715.2,687.8 720.6,692.0 726.1,699.4 731.5,706.2 736.9,687.6 742.4,695.9 747.8,658.6 753.2,666.1 758.7,667.5 764.1,676.1 769.5,669.8 774.9,668.4 780.4,670.1 785.8,675.5 791.2,675.5 796.7,671.5 802.1,667.9 807.5,660.7 813.0,663.4 818.4,656.6 823.8,653.5 829.3,629.4 834.7,625.2 840.1,633.7 845.6,648.8 851.0,664.0 856.4,668.5 861.8,668.8 867.3,667.5 872.7,673.8 878.1,680.9 883.6,661.5 889.0,669.3 894.4,666.6 899.9,672.0 905.3,675.9 910.7,664.8 916.2,658.0 921.6,648.1 927.0,648.6 932.4,654.5 937.9,650.0 943.3,638.6 948.7,643.9 954.2,652.8 959.6,656.5 965.0,653.2 970.5,645.3 975.9,637.6 981.3,630.3 986.8,611.4 992.2,628.5 997.6,608.2 1003.1,608.9 1008.5,605.6 1013.9,593.2 1019.3,592.2 1024.8,599.1 1030.2,597.5 1035.6,625.8 1041.1,653.0 1046.5,658.5 1051.9,657.2 1057.4,640.6 1062.8,648.2 1068.2,641.8 1073.7,651.0 1079.1,651.2 1084.5,661.9 1090.0,661.4 1095.4,654.2 1100.8,652.6 1106.2,654.5 1111.7,638.9 1117.1,622.8 1122.5,637.9 1128.0,652.5 1133.4,647.4 1138.8,638.7 1144.3,625.0 1149.7,642.9 1155.1,644.4 1160.6,650.2 1166.0,651.6 1171.4,667.1 1176.9,664.1 1182.3,659.5 1187.7,660.0 1193.1,653.4 1198.6,660.3 1204.0,671.0 1209.4,674.3 1214.9,677.8 1220.3,687.0 1225.7,688.2 1231.2,658.3 1236.6,640.2 1242.0,637.9 1247.5,622.6 1252.9,619.4 1258.3,609.5 1263.8,595.4 1269.2,579.3 1274.6,608.4 1280.0,595.7 1285.5,580.8 1290.9,560.6 1296.3,560.3 1301.8,539.0 1307.2,562.6 1312.6,582.3 1318.1,579.6 1323.5,569.6 1328.9,566.3 1334.4,579.3 1339.8,596.8 1345.2,594.5 1350.7,592.5 1356.1,590.1 1361.5,572.9 1366.9,583.0 1372.4,564.4 1377.8,548.1 1383.2,547.7 1388.7,570.6 1394.1,569.8 1399.5,557.1 1405.0,579.8 1410.4,579.8 1415.8,609.7 1421.3,606.7 1426.7,604.2 1432.1,608.2 1437.6,601.5 1443.0,612.2 1448.4,612.0 1453.8,619.7 1459.3,618.7 1464.7,625.7 1470.1,628.8 1475.6,627.6 1481.0,637.8 1486.4,630.6 1491.9,617.2 1497.3,603.3 1502.7,612.4 1508.2,629.6 1513.6,633.8 1519.0,625.5 1524.5,634.1 1529.9,634.3 1535.3,639.8 1540.7,626.1 1546.2,627.6 1551.6,617.4 1557.0,622.9 1562.5,625.5 1567.9,622.0 1573.3,634.8 1578.8,637.8 1584.2,648.0 1589.6,640.3 1595.1,632.8 1600.5,642.1 1605.9,644.3 1611.3,635.3 1616.8,615.4 1622.2,606.9 1622.2,592"/>
<polygon clip-path="url(#cos)" fill="url(#os)" points="14.6,689 14.6,626.2 20.0,639.1 25.4,634.9 30.9,635.2 36.3,640.2 41.7,635.7 47.2,648.6 52.6,659.8 58.0,661.7 63.5,654.8 68.9,656.1 74.3,652.5 79.8,652.8 85.2,642.2 90.6,656.5 96.0,659.0 101.5,664.3 106.9,685.0 112.3,696.5 117.8,682.2 123.2,686.9 128.6,686.7 134.1,688.7 139.5,676.2 144.9,679.0 150.4,660.0 155.8,654.4 161.2,650.7 166.7,574.4 172.1,617.0 177.5,622.6 182.9,631.8 188.4,636.7 193.8,639.3 199.2,639.6 204.7,649.4 210.1,642.9 215.5,641.6 221.0,629.5 226.4,631.8 231.8,630.4 237.3,626.9 242.7,635.1 248.1,637.8 253.5,631.5 259.0,638.9 264.4,637.4 269.8,634.2 275.3,635.9 280.7,640.4 286.1,630.7 291.6,628.4 297.0,623.9 302.4,624.4 307.9,632.1 313.3,620.4 318.7,625.4 324.2,630.1 329.6,640.4 335.0,642.4 340.4,641.4 345.9,645.8 351.3,645.5 356.7,651.6 362.2,654.8 367.6,661.5 373.0,662.5 378.5,662.8 383.9,665.1 389.3,656.1 394.8,650.8 400.2,643.1 405.6,653.4 411.1,673.8 416.5,682.5 421.9,676.8 427.3,682.0 432.8,685.7 438.2,666.8 443.6,674.5 449.1,678.6 454.5,682.0 459.9,675.5 465.4,688.9 470.8,693.5 476.2,680.5 481.7,680.8 487.1,684.7 492.5,686.5 498.0,690.0 503.4,683.0 508.8,676.8 514.2,683.2 519.7,671.0 525.1,675.8 530.5,678.1 536.0,675.3 541.4,675.1 546.8,666.1 552.3,684.7 557.7,697.9 563.1,693.7 568.6,678.1 574.0,690.2 579.4,682.2 584.9,674.8 590.3,678.1 595.7,680.8 601.1,671.5 606.6,652.9 612.0,649.2 617.4,626.5 622.9,632.8 628.3,638.2 633.7,647.4 639.2,639.6 644.6,640.2 650.0,639.6 655.5,655.4 660.9,663.8 666.3,669.0 671.8,670.5 677.2,658.5 682.6,656.9 688.0,661.7 693.5,663.6 698.9,667.9 704.3,678.5 709.8,675.8 715.2,687.8 720.6,692.0 726.1,699.4 731.5,706.2 736.9,687.6 742.4,695.9 747.8,658.6 753.2,666.1 758.7,667.5 764.1,676.1 769.5,669.8 774.9,668.4 780.4,670.1 785.8,675.5 791.2,675.5 796.7,671.5 802.1,667.9 807.5,660.7 813.0,663.4 818.4,656.6 823.8,653.5 829.3,629.4 834.7,625.2 840.1,633.7 845.6,648.8 851.0,664.0 856.4,668.5 861.8,668.8 867.3,667.5 872.7,673.8 878.1,680.9 883.6,661.5 889.0,669.3 894.4,666.6 899.9,672.0 905.3,675.9 910.7,664.8 916.2,658.0 921.6,648.1 927.0,648.6 932.4,654.5 937.9,650.0 943.3,638.6 948.7,643.9 954.2,652.8 959.6,656.5 965.0,653.2 970.5,645.3 975.9,637.6 981.3,630.3 986.8,611.4 992.2,628.5 997.6,608.2 1003.1,608.9 1008.5,605.6 1013.9,593.2 1019.3,592.2 1024.8,599.1 1030.2,597.5 1035.6,625.8 1041.1,653.0 1046.5,658.5 1051.9,657.2 1057.4,640.6 1062.8,648.2 1068.2,641.8 1073.7,651.0 1079.1,651.2 1084.5,661.9 1090.0,661.4 1095.4,654.2 1100.8,652.6 1106.2,654.5 1111.7,638.9 1117.1,622.8 1122.5,637.9 1128.0,652.5 1133.4,647.4 1138.8,638.7 1144.3,625.0 1149.7,642.9 1155.1,644.4 1160.6,650.2 1166.0,651.6 1171.4,667.1 1176.9,664.1 1182.3,659.5 1187.7,660.0 1193.1,653.4 1198.6,660.3 1204.0,671.0 1209.4,674.3 1214.9,677.8 1220.3,687.0 1225.7,688.2 1231.2,658.3 1236.6,640.2 1242.0,637.9 1247.5,622.6 1252.9,619.4 1258.3,609.5 1263.8,595.4 1269.2,579.3 1274.6,608.4 1280.0,595.7 1285.5,580.8 1290.9,560.6 1296.3,560.3 1301.8,539.0 1307.2,562.6 1312.6,582.3 1318.1,579.6 1323.5,569.6 1328.9,566.3 1334.4,579.3 1339.8,596.8 1345.2,594.5 1350.7,592.5 1356.1,590.1 1361.5,572.9 1366.9,583.0 1372.4,564.4 1377.8,548.1 1383.2,547.7 1388.7,570.6 1394.1,569.8 1399.5,557.1 1405.0,579.8 1410.4,579.8 1415.8,609.7 1421.3,606.7 1426.7,604.2 1432.1,608.2 1437.6,601.5 1443.0,612.2 1448.4,612.0 1453.8,619.7 1459.3,618.7 1464.7,625.7 1470.1,628.8 1475.6,627.6 1481.0,637.8 1486.4,630.6 1491.9,617.2 1497.3,603.3 1502.7,612.4 1508.2,629.6 1513.6,633.8 1519.0,625.5 1524.5,634.1 1529.9,634.3 1535.3,639.8 1540.7,626.1 1546.2,627.6 1551.6,617.4 1557.0,622.9 1562.5,625.5 1567.9,622.0 1573.3,634.8 1578.8,637.8 1584.2,648.0 1589.6,640.3 1595.1,632.8 1600.5,642.1 1605.9,644.3 1611.3,635.3 1616.8,615.4 1622.2,606.9 1622.2,689"/>
<polyline fill="none" stroke="#fdd835" stroke-width="1.2" stroke-linejoin="round" points="14.6,638.5 20.0,641.0 25.4,643.0 30.9,643.1 36.3,642.8 41.7,642.5 47.2,642.2 52.6,642.2 58.0,643.7 63.5,644.2 68.9,644.4 74.3,644.4 79.8,644.8 85.2,645.7 90.6,647.9 96.0,649.3 101.5,651.4 106.9,655.0 112.3,659.0 117.8,662.3 123.2,665.0 128.6,667.0 134.1,668.9 139.5,670.4 144.9,672.0 150.4,672.6 155.8,672.7 161.2,673.3 166.7,667.4 172.1,664.4 177.5,661.5 182.9,657.7 188.4,653.4 193.8,650.3 199.2,647.0 204.7,644.3 210.1,641.0 215.5,638.5 221.0,635.0 226.4,633.0 231.8,631.3 237.3,629.6 242.7,633.9 248.1,635.4 253.5,636.0 259.0,636.5 264.4,636.6 269.8,636.2 275.3,636.0 280.7,635.3 286.1,634.4 291.6,633.5 297.0,633.1 302.4,632.6 307.9,632.7 313.3,632.2 318.7,631.5 324.2,631.0 329.6,631.6 335.0,631.9 340.4,632.1 345.9,633.0 351.3,633.7 356.7,634.5 362.2,636.2 367.6,638.5 373.0,641.3 378.5,644.0 383.9,646.4 389.3,649.0 394.8,650.8 400.2,651.7 405.6,652.6 411.1,654.9 416.5,657.8 421.9,660.0 427.3,662.6 432.8,665.0 438.2,665.9 443.6,666.8 449.1,668.0 454.5,669.4 459.9,670.1 465.4,672.5 470.8,675.5 476.2,678.2 481.7,680.1 487.1,680.9 492.5,681.2 498.0,682.1 503.4,682.2 508.8,681.6 514.2,682.8 519.7,682.5 525.1,682.3 530.5,682.0 536.0,682.0 541.4,681.0 546.8,679.1 552.3,679.4 557.7,680.6 563.1,681.2 568.6,680.6 574.0,680.6 579.4,680.6 584.9,680.5 590.3,680.1 595.7,680.8 601.1,680.5 606.6,678.7 612.0,676.8 617.4,673.3 622.9,671.0 628.3,667.6 633.7,664.0 639.2,660.1 644.6,657.5 650.0,653.8 655.5,651.9 660.9,651.1 666.3,650.5 671.8,649.8 677.2,648.8 682.6,649.1 688.0,650.0 693.5,652.7 698.9,655.2 704.3,658.0 709.8,660.1 715.2,663.5 720.6,667.2 726.1,671.5 731.5,675.1 736.9,676.8 742.4,678.7 747.8,677.9 753.2,678.4 758.7,679.2 764.1,680.2 769.5,680.7 774.9,680.7 780.4,680.1 785.8,680.1 791.2,679.2 796.7,677.7 802.1,675.5 807.5,672.2 813.0,670.5 818.4,667.7 823.8,667.3 829.3,664.7 834.7,661.7 840.1,658.7 845.6,657.2 851.0,656.9 856.4,656.7 861.8,656.2 867.3,655.7 872.7,655.8 878.1,656.8 883.6,656.8 889.0,657.2 894.4,658.0 899.9,659.3 905.3,662.6 910.7,665.4 916.2,667.2 921.6,667.1 927.0,666.0 932.4,665.0 937.9,663.7 943.3,661.6 948.7,659.5 954.2,657.5 959.6,657.1 965.0,656.0 970.5,654.5 975.9,652.0 981.3,648.7 986.8,644.9 992.2,642.8 997.6,640.0 1003.1,637.1 1008.5,633.6 1013.9,629.6 1019.3,626.3 1024.8,623.1 1030.2,619.1 1035.6,616.9 1041.1,616.9 1046.5,617.9 1051.9,619.2 1057.4,620.0 1062.8,622.6 1068.2,623.6 1073.7,626.6 1079.1,629.6 1084.5,633.7 1090.0,638.5 1095.4,643.0 1100.8,646.8 1106.2,650.9 1111.7,651.8 1117.1,649.6 1122.5,648.2 1128.0,647.8 1133.4,648.3 1138.8,647.6 1144.3,646.4 1149.7,645.9 1155.1,645.4 1160.6,644.5 1166.0,643.8 1171.4,644.8 1176.9,645.6 1182.3,645.9 1187.7,647.4 1193.1,649.6 1198.6,651.2 1204.0,652.5 1209.4,654.5 1214.9,657.2 1220.3,661.7 1225.7,664.9 1231.2,665.9 1236.6,665.2 1242.0,664.2 1247.5,661.0 1252.9,657.8 1258.3,654.3 1263.8,649.7 1269.2,644.4 1274.6,640.7 1280.0,635.3 1285.5,628.6 1290.9,620.2 1296.3,611.2 1301.8,600.5 1307.2,593.7 1312.6,589.6 1318.1,585.4 1323.5,581.6 1328.9,577.8 1334.4,575.7 1339.8,575.8 1345.2,576.9 1350.7,575.7 1356.1,575.3 1361.5,574.7 1366.9,576.3 1372.4,576.6 1377.8,577.3 1383.2,576.2 1388.7,575.4 1394.1,574.7 1399.5,573.8 1405.0,574.8 1410.4,574.8 1415.8,575.7 1421.3,576.6 1426.7,577.4 1432.1,578.7 1437.6,580.8 1443.0,582.9 1448.4,586.2 1453.8,591.4 1459.3,596.4 1464.7,600.4 1470.1,604.6 1475.6,609.6 1481.0,613.8 1486.4,617.4 1491.9,617.9 1497.3,617.7 1502.7,618.3 1508.2,619.8 1513.6,622.1 1519.0,623.0 1524.5,624.6 1529.9,625.7 1535.3,627.2 1540.7,627.2 1546.2,627.1 1551.6,626.4 1557.0,625.3 1562.5,625.0 1567.9,625.3 1573.3,627.6 1578.8,629.4 1584.2,630.7 1589.6,631.2 1595.1,631.7 1600.5,632.2 1605.9,633.0 1611.3,632.6 1616.8,631.9 1622.2,630.4"/>
<polyline fill="none" stroke="#7e57c2" stroke-width="1.2" stroke-linejoin="round" points="14.6,626.2 20.0,639.1 25.4,634.9 30.9,635.2 36.3,640.2 41.7,635.7 47.2,648.6 52.6,659.8 58.0,661.7 63.5,654.8 68.9,656.1 74.3,652.5 79.8,652.8 85.2,642.2 90.6,656.5 96.0,659.0 101.5,664.3 106.9,685.0 112.3,696.5 117.8,682.2 123.2,686.9 128.6,686.7 134.1,688.7 139.5,676.2 144.9,679.0 150.4,660.0 155.8,654.4 161.2,650.7 166.7,574.4 172.1,617.0 177.5,622.6 182.9,631.8 188.4,636.7 193.8,639.3 199.2,639.6 204.7,649.4 210.1,642.9 215.5,641.6 221.0,629.5 226.4,631.8 231.8,630.4 237.3,626.9 242.7,635.1 248.1,637.8 253.5,631.5 259.0,638.9 264.4,637.4 269.8,634.2 275.3,635.9 280.7,640.4 286.1,630.7 291.6,628.4 297.0,623.9 302.4,624.4 307.9,632.1 313.3,620.4 318.7,625.4 324.2,630.1 329.6,640.4 335.0,642.4 340.4,641.4 345.9,645.8 351.3,645.5 356.7,651.6 362.2,654.8 367.6,661.5 373.0,662.5 378.5,662.8 383.9,665.1 389.3,656.1 394.8,650.8 400.2,643.1 405.6,653.4 411.1,673.8 416.5,682.5 421.9,676.8 427.3,682.0 432.8,685.7 438.2,666.8 443.6,674.5 449.1,678.6 454.5,682.0 459.9,675.5 465.4,688.9 470.8,693.5 476.2,680.5 481.7,680.8 487.1,684.7 492.5,686.5 498.0,690.0 503.4,683.0 508.8,676.8 514.2,683.2 519.7,671.0 525.1,675.8 530.5,678.1 536.0,675.3 541.4,675.1 546.8,666.1 552.3,684.7 557.7,697.9 563.1,693.7 568.6,678.1 574.0,690.2 579.4,682.2 584.9,674.8 590.3,678.1 595.7,680.8 601.1,671.5 606.6,652.9 612.0,649.2 617.4,626.5 622.9,632.8 628.3,638.2 633.7,647.4 639.2,639.6 644.6,640.2 650.0,639.6 655.5,655.4 660.9,663.8 666.3,669.0 671.8,670.5 677.2,658.5 682.6,656.9 688.0,661.7 693.5,663.6 698.9,667.9 704.3,678.5 709.8,675.8 715.2,687.8 720.6,692.0 726.1,699.4 731.5,706.2 736.9,687.6 742.4,695.9 747.8,658.6 753.2,666.1 758.7,667.5 764.1,676.1 769.5,669.8 774.9,668.4 780.4,670.1 785.8,675.5 791.2,675.5 796.7,671.5 802.1,667.9 807.5,660.7 813.0,663.4 818.4,656.6 823.8,653.5 829.3,629.4 834.7,625.2 840.1,633.7 845.6,648.8 851.0,664.0 856.4,668.5 861.8,668.8 867.3,667.5 872.7,673.8 878.1,680.9 883.6,661.5 889.0,669.3 894.4,666.6 899.9,672.0 905.3,675.9 910.7,664.8 916.2,658.0 921.6,648.1 927.0,648.6 932.4,654.5 937.9,650.0 943.3,638.6 948.7,643.9 954.2,652.8 959.6,656.5 965.0,653.2 970.5,645.3 975.9,637.6 981.3,630.3 986.8,611.4 992.2,628.5 997.6,608.2 1003.1,608.9 1008.5,605.6 1013.9,593.2 1019.3,592.2 1024.8,599.1 1030.2,597.5 1035.6,625.8 1041.1,653.0 1046.5,658.5 1051.9,657.2 1057.4,640.6 1062.8,648.2 1068.2,641.8 1073.7,651.0 1079.1,651.2 1084.5,661.9 1090.0,661.4 1095.4,654.2 1100.8,652.6 1106.2,654.5 1111.7,638.9 1117.1,622.8 1122.5,637.9 1128.0,652.5 1133.4,647.4 1138.8,638.7 1144.3,625.0 1149.7,642.9 1155.1,644.4 1160.6,650.2 1166.0,651.6 1171.4,667.1 1176.9,664.1 1182.3,659.5 1187.7,660.0 1193.1,653.4 1198.6,660.3 1204.0,671.0 1209.4,674.3 1214.9,677.8 1220.3,687.0 1225.7,688.2 1231.2,658.3 1236.6,640.2 1242.0,637.9 1247.5,622.6 1252.9,619.4 1258.3,609.5 1263.8,595.4 1269.2,579.3 1274.6,608.4 1280.0,595.7 1285.5,580.8 1290.9,560.6 1296.3,560.3 1301.8,539.0 1307.2,562.6 1312.6,582.3 1318.1,579.6 1323.5,569.6 1328.9,566.3 1334.4,579.3 1339.8,596.8 1345.2,594.5 1350.7,592.5 1356.1,590.1 1361.5,572.9 1366.9,583.0 1372.4,564.4 1377.8,548.1 1383.2,547.7 1388.7,570.6 1394.1,569.8 1399.5,557.1 1405.0,579.8 1410.4,579.8 1415.8,609.7 1421.3,606.7 1426.7,604.2 1432.1,608.2 1437.6,601.5 1443.0,612.2 1448.4,612.0 1453.8,619.7 1459.3,618.7 1464.7,625.7 1470.1,628.8 1475.6,627.6 1481.0,637.8 1486.4,630.6 1491.9,617.2 1497.3,603.3 1502.7,612.4 1508.2,629.6 1513.6,633.8 1519.0,625.5 1524.5,634.1 1529.9,634.3 1535.3,639.8 1540.7,626.1 1546.2,627.6 1551.6,617.4 1557.0,622.9 1562.5,625.5 1567.9,622.0 1573.3,634.8 1578.8,637.8 1584.2,648.0 1589.6,640.3 1595.1,632.8 1600.5,642.1 1605.9,644.3 1611.3,635.3 1616.8,615.4 1622.2,606.9"/>
<g shape-rendering="crispEdges" fill="#0ee80e">
<rect x="167" y="518" width="1" height="206"/>
<rect x="1302" y="518" width="1" height="206"/>
<rect x="1378" y="518" width="1" height="206"/>
<rect x="1400" y="518" width="1" height="206"/>
</g>
<defs><clipPath id="crsi"><rect x="1708" y="518" width="83" height="206"/></clipPath>
<clipPath id="cl1"><rect x="1241" y="724" width="77" height="30"/></clipPath>
<clipPath id="cl2"><rect x="1318" y="724" width="26.3" height="30"/></clipPath></defs>
<rect x="1712.8" y="39.8" width="72.4" height="30.4" rx="5.5" fill="#fff" stroke="#e6e8ef" stroke-width="1.7"/>
<path d="M109 724h116v27a3 3 0 0 1-3 3h-110a3 3 0 0 1-3-3z" fill="#0ee80e"/>
<path d="M1241 724h215v27a3 3 0 0 1-3 3h-209a3 3 0 0 1-3-3z" fill="#0ee80e"/>
<text x="13.17" y="24.7" style="font-size:14.9px;" textLength="80.21" lengthAdjust="spacingAndGlyphs">BeInCrypto1</text>
<text x="99.56" y="24.7" style="font-size:14.9px;" textLength="64.28" lengthAdjust="spacingAndGlyphs">published</text>
<text x="168.55" y="24.7" style="font-size:14.9px;" textLength="16.06" lengthAdjust="spacingAndGlyphs">on</text>
<text x="189.77" y="24.7" style="font-size:14.9px;" textLength="117.55" lengthAdjust="spacingAndGlyphs">TradingView.com,</text>
<text x="312.78" y="24.7" style="font-size:14.9px;" textLength="22.29" lengthAdjust="spacingAndGlyphs">Jan</text>
<text x="341.57" y="24.7" style="font-size:14.9px;" textLength="18.42" lengthAdjust="spacingAndGlyphs">16,</text>
<text x="366.15" y="24.7" style="font-size:14.9px;" textLength="30.81" lengthAdjust="spacingAndGlyphs">2025</text>
<text x="402.70" y="24.7" style="font-size:14.9px;" textLength="35.88" lengthAdjust="spacingAndGlyphs">13:53</text>
<text x="443.74" y="24.7" style="font-size:14.9px;" textLength="63.41" lengthAdjust="spacingAndGlyphs">UTC+5:30</text>
<text x="1717.84" y="101.9" textLength="52.92" lengthAdjust="spacingAndGlyphs">0.35000</text>
<text x="1717.84" y="164.9" textLength="52.92" lengthAdjust="spacingAndGlyphs">0.25000</text>
<text x="1717.84" y="216.9" textLength="52.92" lengthAdjust="spacingAndGlyphs">0.19000</text>
<text x="1717.84" y="260.9" textLength="52.92" lengthAdjust="spacingAndGlyphs">0.15000</text>
<text x="1717.84" y="302.9" textLength="52.92" lengthAdjust="spacingAndGlyphs">0.12000</text>
<text x="1717.84" y="356.9" textLength="52.92" lengthAdjust="spacingAndGlyphs">0.09000</text>
<text x="1717.84" y="404.9" textLength="52.92" lengthAdjust="spacingAndGlyphs">0.07000</text>
<text x="1717.84" y="449.9" textLength="52.92" lengthAdjust="spacingAndGlyphs">0.05500</text>
<text x="1717.84" y="487.9" textLength="52.92" lengthAdjust="spacingAndGlyphs">0.04500</text>
<text x="1717.47" y="525.2" clip-path="url(#crsi)" textLength="45.29" lengthAdjust="spacingAndGlyphs">100.00</text>
<text x="1717.93" y="573.2" clip-path="url(#crsi)" textLength="37.44" lengthAdjust="spacingAndGlyphs">80.00</text>
<text x="1717.69" y="621.2" clip-path="url(#crsi)" textLength="37.68" lengthAdjust="spacingAndGlyphs">60.00</text>
<text x="1718.17" y="669.2" clip-path="url(#crsi)" textLength="37.20" lengthAdjust="spacingAndGlyphs">40.00</text>
<text x="1717.69" y="717.2" clip-path="url(#crsi)" textLength="37.68" lengthAdjust="spacingAndGlyphs">20.00</text>
<text x="1722.49" y="59.4" style="font-size:14.6px;" textLength="35.13" lengthAdjust="spacingAndGlyphs">USDT</text>
<path d="M1708 92h73a2 2 0 0 1 2 2v35a2 2 0 0 1-2 2h-73z" fill="#089981"/>
<path d="M1708 597h52a2 2 0 0 1 2 2v17a2 2 0 0 1-2 2h-52z" fill="#7e57c2"/>
<path d="M1708 620h52a2 2 0 0 1 2 2v17a2 2 0 0 1-2 2h-52z" fill="#fdd835"/>
<text x="1718.65" y="107.8" style="fill:#fff;stroke:#fff;stroke-width:0.35;" textLength="52.03" lengthAdjust="spacingAndGlyphs">0.33971</text>
<text x="1718.96" y="125.8" style="fill:#fff;fill-opacity:0.72;stroke:#fff;stroke-width:0.35;stroke-opacity:0.72;" textLength="58.76" lengthAdjust="spacingAndGlyphs">15:36:16</text>
<text x="1718.60" y="612.8" style="fill:#fff;stroke:#fff;stroke-width:0.35;" textLength="37.61" lengthAdjust="spacingAndGlyphs">63.55</text>
<text x="1719.04" y="635.6" style="fill:#000;stroke:#000;stroke-width:0.3;" textLength="36.93" lengthAdjust="spacingAndGlyphs">53.84</text>
<text x="36.10" y="747" textLength="22.77" lengthAdjust="spacingAndGlyphs">Apr</text>
<text x="366.99" y="747" textLength="23.62" lengthAdjust="spacingAndGlyphs">Jun</text>
<text x="532.51" y="747" textLength="18.72" lengthAdjust="spacingAndGlyphs">Jul</text>
<text x="697.88" y="747" textLength="26.06" lengthAdjust="spacingAndGlyphs">Aug</text>
<text x="865.54" y="747" textLength="26.06" lengthAdjust="spacingAndGlyphs">Sep</text>
<text x="1029.74" y="747" textLength="22.79" lengthAdjust="spacingAndGlyphs">Oct</text>
<text x="1195.90" y="747" textLength="26.05" lengthAdjust="spacingAndGlyphs">Nov</text>
<text x="1525.16" y="747" style="font-weight:bold;" textLength="32.58" lengthAdjust="spacingAndGlyphs">2025</text>
<text x="119.97" y="747" style="fill:#000;stroke:#000;stroke-width:0.25;" textLength="93.99" lengthAdjust="spacingAndGlyphs">Tue 23 Apr '24</text>
<text x="1251.15" y="747" style="fill:#000;stroke:#000;stroke-width:0.25;" clip-path="url(#cl1)" textLength="102.47" lengthAdjust="spacingAndGlyphs">Mon 18 Nov '24</text>
<text x="1327.55" y="747" style="fill:#000;stroke:#000;stroke-width:0.25;" clip-path="url(#cl2)" textLength="102.47" lengthAdjust="spacingAndGlyphs">Mon 02 Dec '24</text>
<text x="1354.55" y="747" style="fill:#000;stroke:#000;stroke-width:0.25;" textLength="91.01" lengthAdjust="spacingAndGlyphs">Fri 06 Dec '24</text>
<text x="41.65" y="786.8" style="font-size:15.8px;" textLength="87.65" lengthAdjust="spacingAndGlyphs">TradingView</text>
<g fill="#131722"><path d="M13.1 774.6H22.8V786.8H18V779.2H13.1z"/><circle cx="26.95" cy="777.2" r="2.6"/><path d="M32.3 774.6H37L32.9 786.8H27.1z"/></g>
</svg></body></html>
